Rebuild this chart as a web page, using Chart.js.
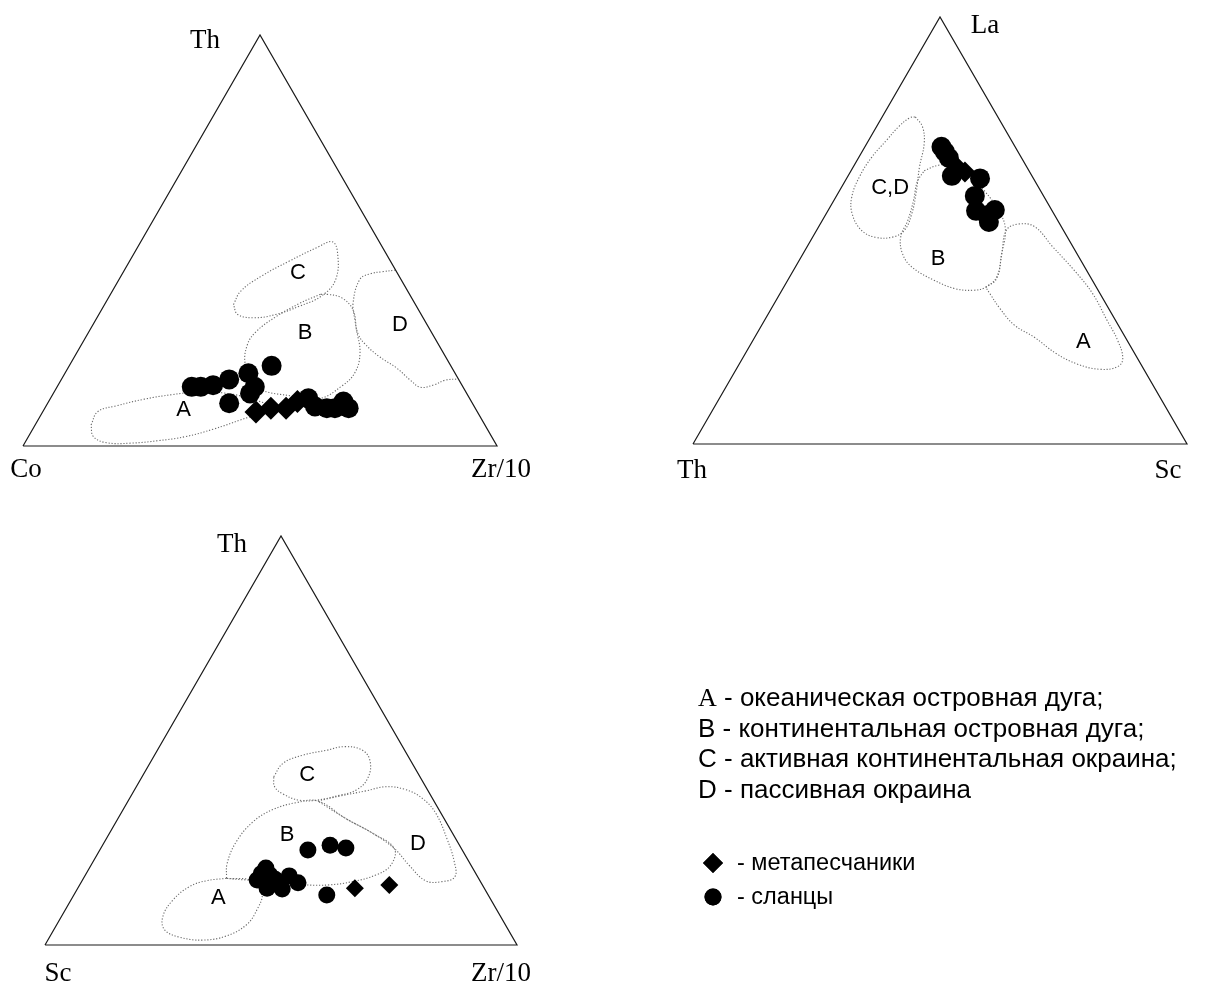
<!DOCTYPE html>
<html>
<head>
<meta charset="utf-8">
<style>
  html, body { margin: 0; padding: 0; background: #ffffff; }
  canvas { display: block; }
</style>
<script src="https://cdn.jsdelivr.net/npm/chart.js@4.4.1/dist/chart.umd.min.js"></script>
</head>
<body>
<canvas id="chart" width="1225" height="983"></canvas>
<script>
// ---------- Diagram 1: Co – Zr/10 – Th (percent, order [Co, Zr/10, Th]) ----------
const d1Corners = ['Co', 'Zr/10', 'Th'];
const d1Shales = [
  [57.2, 28.4, 14.4], [55.3, 30.3, 14.4], [52.5, 32.7, 14.8], [48.4, 35.4, 16.2],
  [51.3, 38.3, 10.4], [43.6, 38.7, 17.7], [43.9, 41.7, 14.4], [45.7, 41.5, 12.8],
  [37.8, 42.7, 19.5], [34.0, 54.4, 11.6], [33.6, 56.8, 9.6], [31.3, 59.5, 9.2],
  [29.6, 61.2, 9.2], [27.0, 62.2, 10.8], [26.7, 64.1, 9.2]
];
const d1Sandstones = [
  [46.7, 45.0, 8.3], [43.1, 47.7, 9.2], [39.9, 50.9, 9.2], [36.7, 52.5, 10.8]
];
const d1FieldA = [
  [83.1, 11.8, 5.1], [80.0, 11.6, 8.4], [75.3, 14.9, 9.8], [68.7, 19.9, 11.4],
  [62.3, 25.2, 12.5], [57.7, 29.3, 13.0], [51.2, 35.9, 12.9], [45.5, 43.3, 11.2],
  [42.9, 47.9, 9.2], [50.8, 42.8, 6.4], [57.8, 38.1, 4.1], [64.5, 33.2, 2.3],
  [70.8, 27.9, 1.3], [76.9, 22.4, 0.7], [82.0, 17.2, 0.8], [84.0, 13.7, 2.3]
];
const d1FieldB = [
  [18.8, 44.3, 36.9], [24.3, 41.0, 34.7], [31.0, 37.6, 31.4], [36.8, 35.3, 27.9],
  [40.3, 35.0, 24.7], [43.2, 37.0, 19.8], [43.8, 41.7, 14.5], [37.0, 50.9, 12.1],
  [31.5, 56.9, 11.6], [25.6, 59.9, 14.5], [21.1, 61.1, 17.8], [17.6, 59.8, 22.6],
  [15.5, 56.2, 28.3], [13.8, 53.0, 33.2], [14.8, 49.1, 36.1], [17.3, 45.8, 36.9]
];
const d1FieldC = [
  [38.4, 27.2, 34.4], [35.2, 27.1, 37.7], [28.9, 29.7, 41.4], [21.3, 33.7, 45.0],
  [13.8, 37.9, 48.3], [9.9, 40.4, 49.7], [10.1, 42.8, 47.1], [13.7, 45.7, 40.6],
  [18.6, 44.8, 36.6], [24.7, 41.3, 34.0], [30.7, 37.3, 32.0], [35.5, 33.3, 31.2],
  [38.7, 29.3, 32.0]
];
// open outline: runs from the Zr/10–Th side back to the same side
const d1FieldD = [
  [0.0, 57.2, 42.8], [3.0, 54.6, 42.4], [5.8, 52.3, 41.9], [8.6, 50.8, 40.6],
  [12.9, 52.2, 34.9], [14.6, 54.6, 30.8], [15.7, 57.2, 27.1], [15.4, 59.9, 24.7],
  [14.0, 64.2, 21.8], [11.7, 69.3, 19.0], [10.3, 73.6, 16.1], [9.0, 76.7, 14.3],
  [5.8, 79.3, 14.9], [3.0, 81.0, 16.0], [0.0, 83.7, 16.3]
];
const d1FieldLabels = [
  ['A', [61.5, 29.3, 9.2]], ['B', [26.5, 45.5, 28.0]],
  ['C', [20.7, 36.7, 42.6]], ['D', [5.5, 64.6, 29.9]]
];

// ---------- Diagram 2: Th – Sc – La (percent, order [Th, Sc, La]) ----------
const d2Corners = ['Th', 'Sc', 'La'];
const d2Shales = [
  [14.9, 15.5, 69.6], [14.8, 16.8, 68.4], [14.7, 18.3, 67.0], [16.2, 21.0, 62.8],
  [10.8, 27.0, 62.2], [13.9, 28.0, 58.1], [15.4, 30.0, 54.6], [13.7, 32.7, 53.6],
  [11.5, 33.7, 54.8], [14.1, 33.9, 52.0]
];
const d2Sandstones = [
  [14.4, 20.0, 65.6], [13.1, 23.2, 63.7]
];
const d2FieldA = [
  [22.4, 40.9, 36.7], [19.1, 42.1, 38.8], [15.2, 40.2, 44.6], [11.5, 38.4, 50.1],
  [8.4, 40.1, 51.5], [5.4, 43.7, 50.9], [4.1, 49.7, 46.2], [2.5, 56.8, 40.7],
  [1.5, 63.2, 35.3], [1.7, 69.3, 29.0], [1.9, 73.8, 24.3], [3.0, 77.0, 20.0],
  [5.0, 76.9, 18.1], [8.9, 73.6, 17.5], [12.8, 68.5, 18.7], [15.9, 62.9, 21.2],
  [18.4, 56.6, 25.0], [21.0, 51.2, 27.8], [22.0, 46.3, 31.7], [22.3, 42.4, 35.3]
];
const d2FieldB = [
  [21.2, 14.8, 64.0], [17.6, 17.1, 65.3], [13.6, 21.1, 65.3], [11.4, 29.2, 59.4],
  [10.8, 35.2, 54.0], [11.7, 38.2, 50.1], [15.2, 40.2, 44.6], [18.9, 41.9, 39.2],
  [22.4, 40.9, 36.7], [25.3, 38.7, 36.0], [28.8, 34.8, 36.4], [32.1, 29.5, 38.4],
  [35.0, 23.5, 41.5], [35.3, 20.1, 44.6], [33.7, 17.8, 48.5], [30.3, 17.3, 52.4],
  [26.8, 16.1, 57.1], [23.9, 14.7, 61.4]
];
const d2FieldCD = [
  [16.7, 6.7, 76.6], [16.4, 9.3, 74.3], [18.0, 11.6, 70.4], [21.7, 13.4, 64.9],
  [25.5, 15.8, 58.7], [28.7, 17.3, 54.0], [32.1, 17.8, 50.1], [35.2, 16.3, 48.5],
  [38.8, 12.8, 48.4], [40.9, 9.0, 50.1], [40.8, 5.2, 54.0], [38.9, 3.2, 57.9],
  [35.0, 2.4, 62.6], [30.2, 2.6, 67.2], [25.3, 3.6, 71.1], [21.1, 4.5, 74.4],
  [17.9, 5.7, 76.4]
];
const d2FieldLabels = [
  ['A', [8.8, 66.8, 24.4]], ['B', [28.5, 27.7, 43.8]], ['C,D', [29.9, 9.7, 60.4]]
];

// ---------- Diagram 3: Sc – Zr/10 – Th (percent, order [Sc, Zr/10, Th]) ----------
const d3Corners = ['Sc', 'Zr/10', 'Th'];
const d3Shales = [
  [32.7, 44.1, 23.2], [27.4, 48.2, 24.4], [24.4, 51.9, 23.7], [43.8, 37.4, 18.8],
  [45.5, 37.1, 17.4], [47.1, 37.0, 15.9], [43.8, 39.1, 17.1], [43.2, 40.7, 16.1],
  [46.0, 40.1, 13.9], [42.9, 43.4, 13.7], [39.8, 43.3, 16.9], [38.8, 46.0, 15.2],
  [34.2, 53.6, 12.2]
];
const d3Sandstones = [
  [27.4, 58.7, 13.9], [19.7, 65.6, 14.7]
];
const d3FieldA = [
  [53.4, 30.3, 16.3], [58.0, 26.3, 15.7], [62.2, 23.5, 14.3], [67.4, 21.6, 11.0],
  [71.6, 21.5, 6.9], [72.8, 23.5, 3.7], [70.5, 27.6, 1.9], [66.0, 32.8, 1.2],
  [60.5, 37.3, 2.2], [54.9, 40.2, 4.9], [50.8, 40.6, 8.6], [47.7, 39.7, 12.6],
  [48.1, 36.2, 15.7]
];
const d3FieldB = [
  [53.4, 30.3, 16.3], [51.4, 28.6, 20.0], [46.9, 27.9, 25.2], [40.9, 29.0, 30.1],
  [35.2, 31.7, 33.1], [29.4, 35.8, 34.8], [24.6, 40.2, 35.2], [20.8, 48.3, 30.9],
  [16.9, 55.8, 27.3], [14.2, 62.2, 23.6], [17.0, 63.5, 19.5], [21.4, 61.5, 17.1],
  [27.1, 57.4, 15.5], [32.4, 52.9, 14.7], [37.3, 48.0, 14.7], [44.0, 40.5, 15.5],
  [49.4, 34.7, 15.9]
];
const d3FieldC = [
  [31.0, 27.9, 41.1], [27.4, 28.2, 44.4], [22.2, 31.4, 46.4], [16.6, 35.8, 47.6],
  [12.3, 39.2, 48.5], [8.9, 43.5, 47.6], [8.7, 46.5, 44.8], [11.3, 48.0, 40.7],
  [15.1, 47.0, 37.9], [19.3, 44.1, 36.6], [24.9, 39.7, 35.4], [28.4, 36.2, 35.4],
  [31.1, 32.0, 36.9], [32.0, 29.3, 38.7]
];
const d3FieldD = [
  [24.6, 40.2, 35.2], [19.4, 44.2, 36.4], [13.1, 49.2, 37.7], [8.4, 52.9, 38.7],
  [4.6, 57.4, 38.0], [2.1, 62.1, 35.8], [1.1, 66.7, 32.2], [1.9, 72.4, 25.7],
  [3.1, 76.5, 20.4], [4.8, 78.5, 16.7], [8.1, 76.4, 15.5], [11.5, 72.8, 15.7],
  [13.1, 67.4, 19.5], [14.2, 62.2, 23.6], [16.9, 55.8, 27.3], [20.8, 48.3, 30.9]
];
const d3FieldLabels = [
  ['A', [57.3, 30.7, 12.0]], ['B', [35.0, 37.6, 27.4]],
  ['C', [23.4, 34.5, 42.1]], ['D', [8.4, 66.4, 25.2]]
];

// ---------- Legend texts ----------
const fieldLegend = [
  ['A', ' - океаническая островная дуга;'],
  ['B', ' - континентальная островная дуга;'],
  ['C', ' - активная континентальная окраина;'],
  ['D', ' - пассивная окраина']
];
const symbolLegend = [
  ['rectRot', '- метапесчаники'],
  ['circle', '- сланцы']
];

// ---------- Layout: triangle corners on the page ----------
// corner names are placed as [left, right, top]
const diagrams = [
  { corners: d1Corners, frame: { left: [23, 446], right: [497, 446], top: [260, 35] },
    shales: d1Shales, sands: d1Sandstones, dotR: 10, diaR: 11.5,
    fields: [[d1FieldA, true], [d1FieldB, true], [d1FieldC, true], [d1FieldD, false]],
    fieldLabels: d1FieldLabels,
    cornerText: [[26, 477], [501, 477], [205, 48]] },
  { corners: d2Corners, frame: { left: [693, 444], right: [1187, 444], top: [940, 17] },
    shales: d2Shales, sands: d2Sandstones, dotR: 10, diaR: 10.5,
    fields: [[d2FieldA, true], [d2FieldB, true], [d2FieldCD, true]],
    fieldLabels: d2FieldLabels,
    cornerText: [[692, 478], [1168, 478], [985, 33]] },
  { corners: d3Corners, frame: { left: [45, 945], right: [517, 945], top: [281, 536] },
    shales: d3Shales, sands: d3Sandstones, dotR: 8.5, diaR: 9,
    fields: [[d3FieldA, true], [d3FieldB, true], [d3FieldC, true], [d3FieldD, true]],
    fieldLabels: d3FieldLabels,
    cornerText: [[58, 981], [501, 981], [232, 552]] }
];

// composition [left part, right part, top part] -> page coordinates
function toXY(frame, comp) {
  const [a, b, c] = comp;
  const s = a + b + c;
  return {
    x: (a * frame.left[0] + b * frame.right[0] + c * frame.top[0]) / s,
    y: (a * frame.left[1] + b * frame.right[1] + c * frame.top[1]) / s
  };
}

const datasets = [];
diagrams.forEach(d => {
  // samples (drawn on top)
  datasets.push({
    label: 'сланцы', data: d.shales.map(p => toXY(d.frame, p)),
    pointStyle: 'circle', pointRadius: d.dotR, backgroundColor: '#000', borderColor: '#000',
    borderWidth: 0, showLine: false, order: 0
  });
  datasets.push({
    label: 'метапесчаники', data: d.sands.map(p => toXY(d.frame, p)),
    pointStyle: 'rectRot', pointRadius: d.diaR, backgroundColor: '#000', borderColor: '#000',
    borderWidth: 0, showLine: false, order: 0
  });
  // triangle frame
  datasets.push({
    data: [[100, 0, 0], [0, 100, 0], [0, 0, 100], [100, 0, 0]].map(p => toXY(d.frame, p)),
    showLine: true, borderColor: '#1a1a1a', borderWidth: 1.2, pointRadius: 0, tension: 0, order: 1
  });
  // dotted tectonic-setting fields
  d.fields.forEach(([pts, closed]) => {
    const ring = closed ? pts.concat([pts[0]]) : pts;
    datasets.push({
      data: ring.map(p => toXY(d.frame, p)),
      showLine: true, borderColor: '#6a6a6a', borderWidth: 1.1, borderDash: [1.2, 1.8],
      pointRadius: 0, tension: 0.4, order: 2
    });
  });
});

const textPlugin = {
  id: 'ternaryText',
  afterDatasetsDraw(chart) {
    const ctx = chart.ctx;
    const xs = chart.scales.x, ys = chart.scales.y;
    ctx.save();
    ctx.fillStyle = '#000';
    ctx.textBaseline = 'alphabetic';
    diagrams.forEach(d => {
      // corner names
      ctx.font = '27px "Liberation Serif", "Times New Roman", serif';
      ctx.textAlign = 'center';
      d.corners.forEach((name, j) => {
        const pos = d.cornerText[j];
        ctx.fillText(name, pos[0], pos[1]);
      });
      // field letters
      ctx.font = '22px "Liberation Sans", Arial, sans-serif';
      d.fieldLabels.forEach(([t, comp]) => {
        const p = toXY(d.frame, comp);
        ctx.fillText(t, xs.getPixelForValue(p.x), ys.getPixelForValue(p.y) + 8);
      });
    });
    // field legend
    const serif = '26px "Liberation Serif", "Times New Roman", serif';
    const sans = '26px "Liberation Sans", Arial, sans-serif';
    ctx.textAlign = 'left';
    fieldLegend.forEach(([letter, rest], k) => {
      const y = 706 + k * 30.6;
      ctx.font = letter === 'A' ? serif : sans;
      ctx.fillText(letter, 698, y);
      const w = ctx.measureText(letter).width;
      ctx.font = sans;
      ctx.fillText(rest, 698 + w, y);
    });
    // symbol legend
    ctx.font = '23.5px "Liberation Sans", Arial, sans-serif';
    symbolLegend.forEach(([style, text], k) => {
      const y = 863 + k * 34;
      ctx.beginPath();
      Chart.helpers.drawPoint(ctx, { pointStyle: style, rotation: 0,
        radius: style === 'circle' ? 8.5 : 10, borderWidth: 0 }, 713, y);
      ctx.fill();
      ctx.fillText(text, 737, y + 7);
    });
    ctx.restore();
  }
};

new Chart(document.getElementById('chart'), {
  type: 'scatter',
  data: { datasets },
  options: {
    responsive: false,
    animation: false,
    devicePixelRatio: 1,
    events: [],
    layout: { padding: 0, autoPadding: false },
    elements: { line: { fill: false } },
    datasets: { scatter: { clip: false } },
    scales: {
      x: { type: 'linear', min: 0, max: 1225, display: false },
      y: { type: 'linear', min: 0, max: 983, reverse: true, display: false }
    },
    plugins: { legend: { display: false }, tooltip: { enabled: false } }
  },
  plugins: [textPlugin]
});
</script>
</body>
</html>
